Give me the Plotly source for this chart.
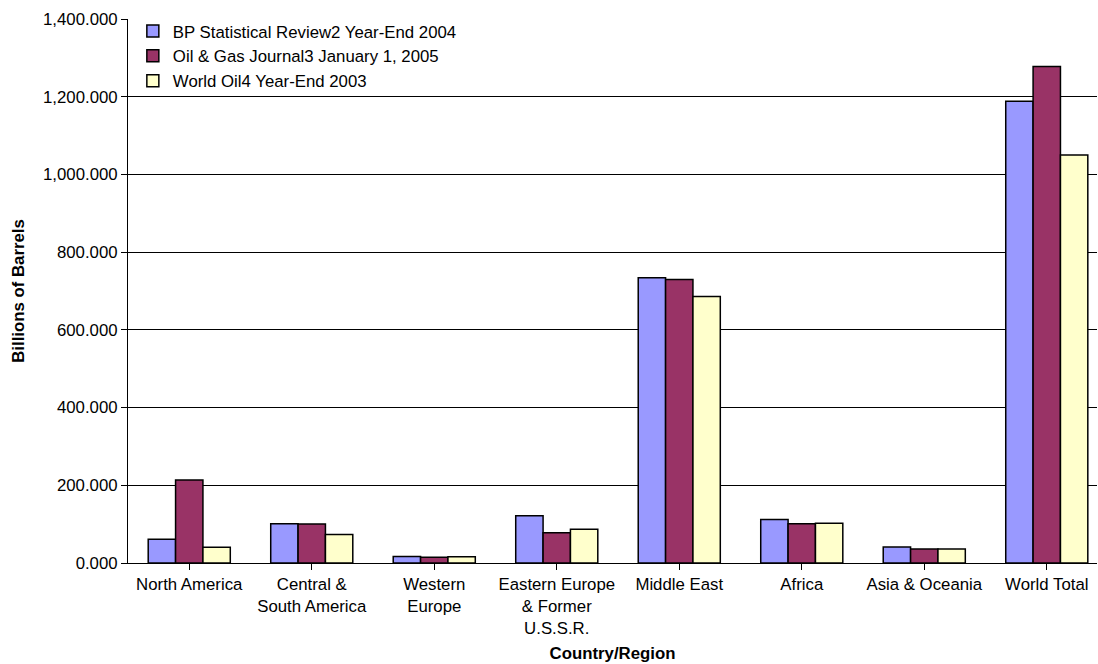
import plotly.graph_objects as go

# World proved oil reserves by region, three estimate sources
regions = [
    "North America",
    "Central &<br>South America",
    "Western<br>Europe",
    "Eastern Europe<br>& Former<br>U.S.S.R.",
    "Middle East",
    "Africa",
    "Asia & Oceania",
    "World Total",
]
bp_2004 = [61.0, 101.2, 17.0, 121.9, 733.9, 112.2, 41.1, 1188.6]
ogj_2005 = [213.3, 100.2, 15.0, 77.8, 729.3, 100.8, 36.1, 1277.7]
wo_2003 = [40.5, 73.5, 16.0, 87.0, 685.6, 102.6, 35.9, 1050.2]

series = [
    ("BP Statistical Review2 Year-End 2004", bp_2004, "#9999FF"),
    ("Oil & Gas Journal3 January 1, 2005", ogj_2005, "#993366"),
    ("World Oil4 Year-End 2003", wo_2003, "#FFFFCC"),
]

font_family = "Liberation Sans, Arial, sans-serif"
fs = 16.8

fig = go.Figure()
for name, vals, color in series:
    fig.add_trace(go.Bar(
        x=list(range(len(regions))),
        y=vals,
        name=name,
        marker=dict(color=color, line=dict(color="#000000", width=1.5)),
    ))

fig.update_layout(
    width=1098,
    height=664,
    margin=dict(l=128, r=1, t=19, b=101),
    paper_bgcolor="white",
    plot_bgcolor="white",
    barmode="group",
    bargap=0.33,
    bargroupgap=0,
    font=dict(family=font_family, size=fs, color="#000000"),
    showlegend=True,
    legend=dict(
        x=0.005, y=1.01, xanchor="left", yanchor="top",
        bgcolor="rgba(255,255,255,0)",
        font=dict(size=fs),
        tracegroupgap=0,
        itemwidth=30,
    ),
    xaxis=dict(
        tickmode="array",
        tickvals=list(range(len(regions))),
        ticktext=regions,
        range=[-0.5, 7.41],
        showline=True, linecolor="#000000", linewidth=1,
        ticks="outside", ticklen=6, tickcolor="#000000",
        tickson="boundaries",
        showgrid=False,
        zeroline=False,
        tickfont=dict(size=fs),
        title=dict(text="<b>Country/Region</b>", font=dict(size=fs), standoff=10),
    ),
    yaxis=dict(
        range=[0, 1400],
        dtick=200,
        tickformat=",.3f",
        showline=True, linecolor="#000000", linewidth=1,
        ticks="outside", ticklen=6, tickcolor="#000000",
        showgrid=True, gridcolor="#000000", gridwidth=1,
        zeroline=False,
        tickfont=dict(size=fs),
        title=dict(text="<b>Billions of Barrels</b>", font=dict(size=fs), standoff=14),
    ),
)

fig.write_html("out.html")
